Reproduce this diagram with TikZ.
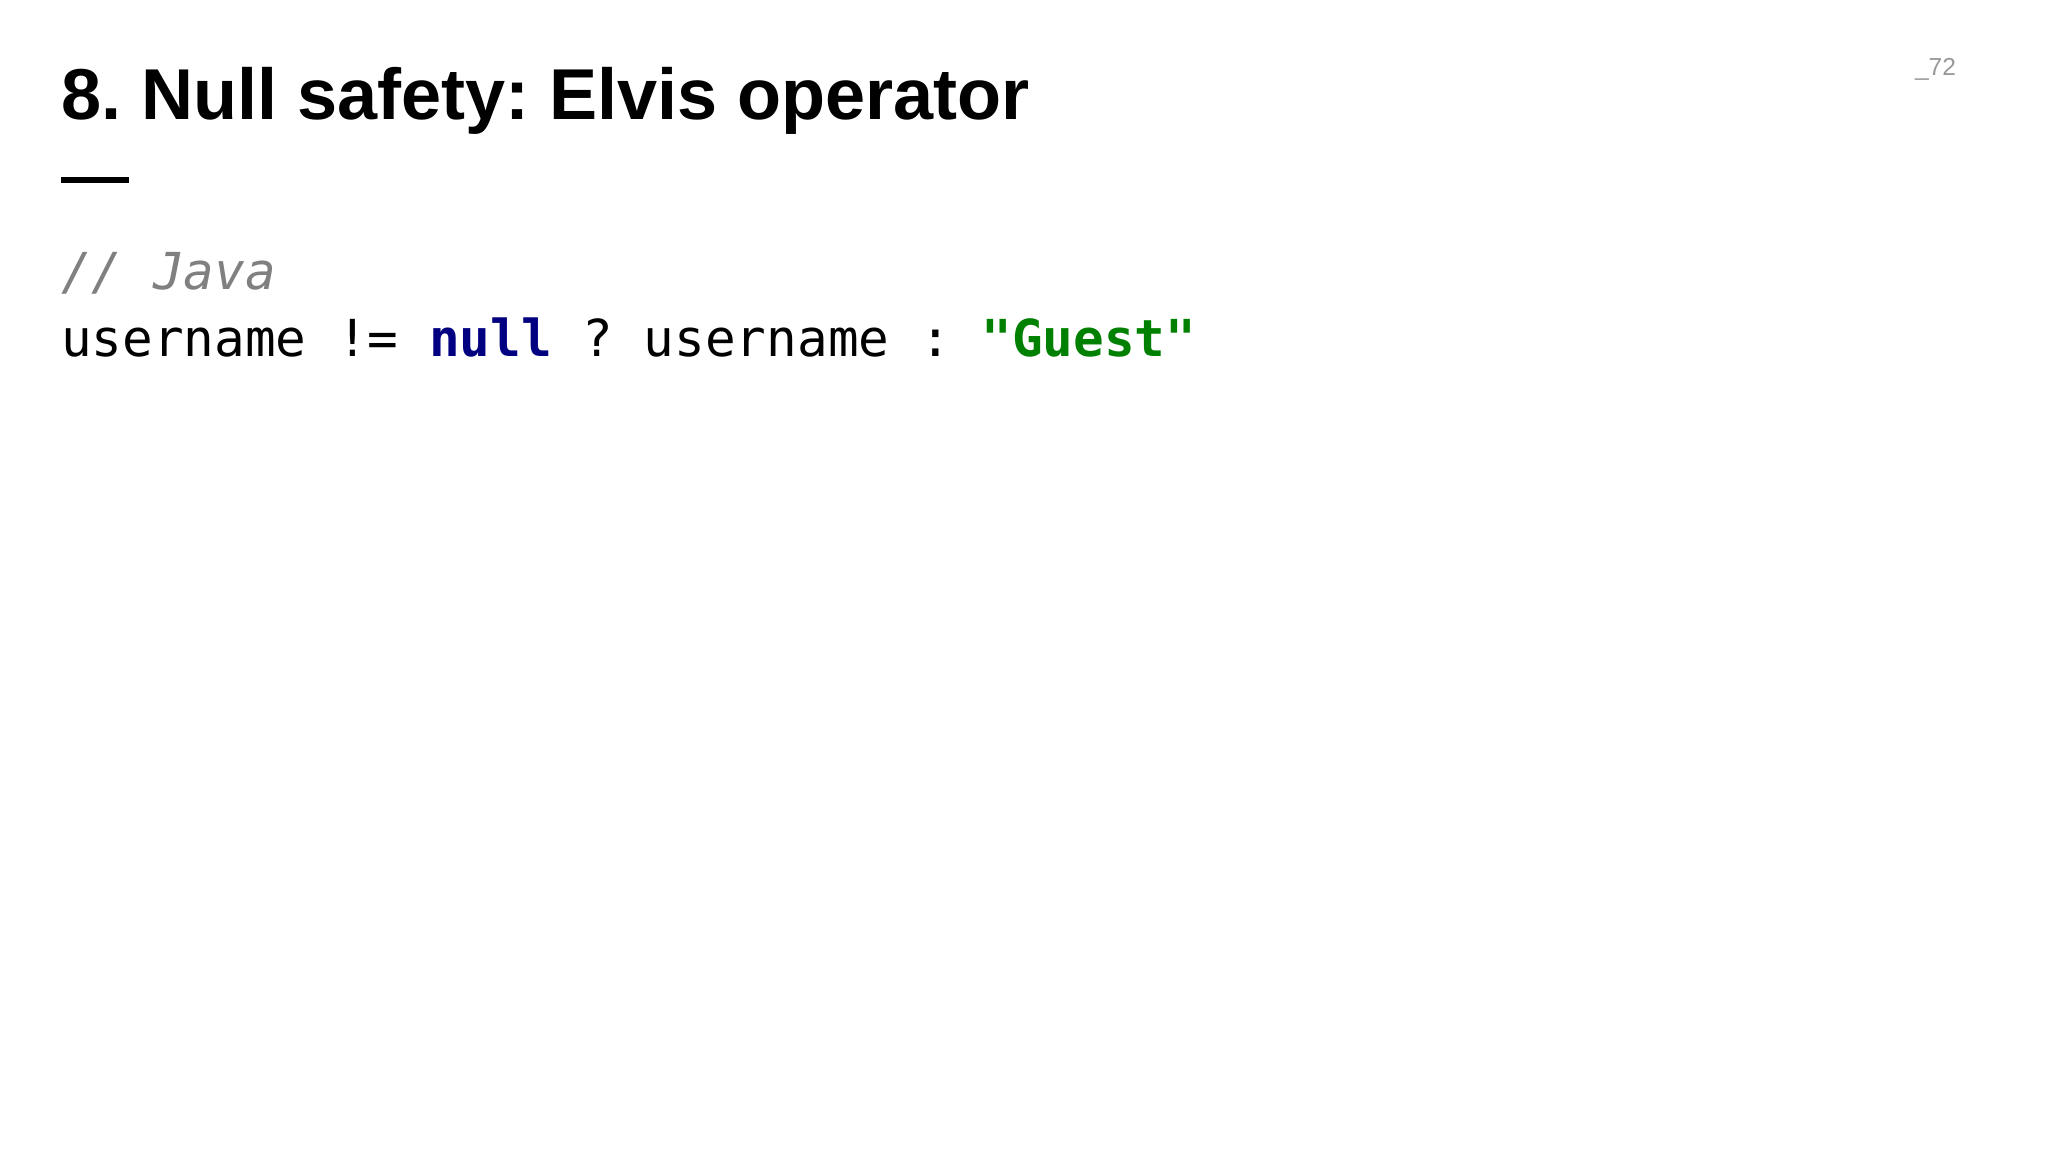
\documentclass[tikz,border=0pt]{standalone}
\usepackage{fontspec}
\setmainfont{Liberation Sans}
\newfontfamily\codefont{DejaVu Sans Mono}
\definecolor{navyc}{HTML}{000080}
\definecolor{greenc}{HTML}{008000}
\definecolor{graycom}{HTML}{808080}
\frenchspacing
\begin{document}
\begin{tikzpicture}[x=0.1mm,y=-0.1mm,
  txt/.style={anchor=base west,inner sep=0pt,outer sep=0pt}]
\useasboundingbox (0,0) rectangle (2048,1152);
\fill[white] (0,0) rectangle (2048,1152);
\node[txt,font=\fontsize{20.5}{24}\selectfont\bfseries] (title) at (61,120) {8. Null safety: Elvis operator};
\coordinate (d1) at (61,180); \coordinate (d2) at (129,180);
\draw[line width=1.8pt] (d1) -- (d2);
\node[txt,font=\fontsize{7}{8}\selectfont,text=gray!80] (pg) at (1915,76) {\_72};
\node[txt,font=\codefont\fontsize{14.5}{17}\selectfont\itshape,text=graycom] (com) at (61,290) {// Java};
\node[txt,font=\codefont\fontsize{14.5}{17}\selectfont] (code) at (61,357) {username != \textcolor{navyc}{\bfseries null} ? username : \textcolor{greenc}{\bfseries "Guest"}};
\end{tikzpicture}
\end{document}
